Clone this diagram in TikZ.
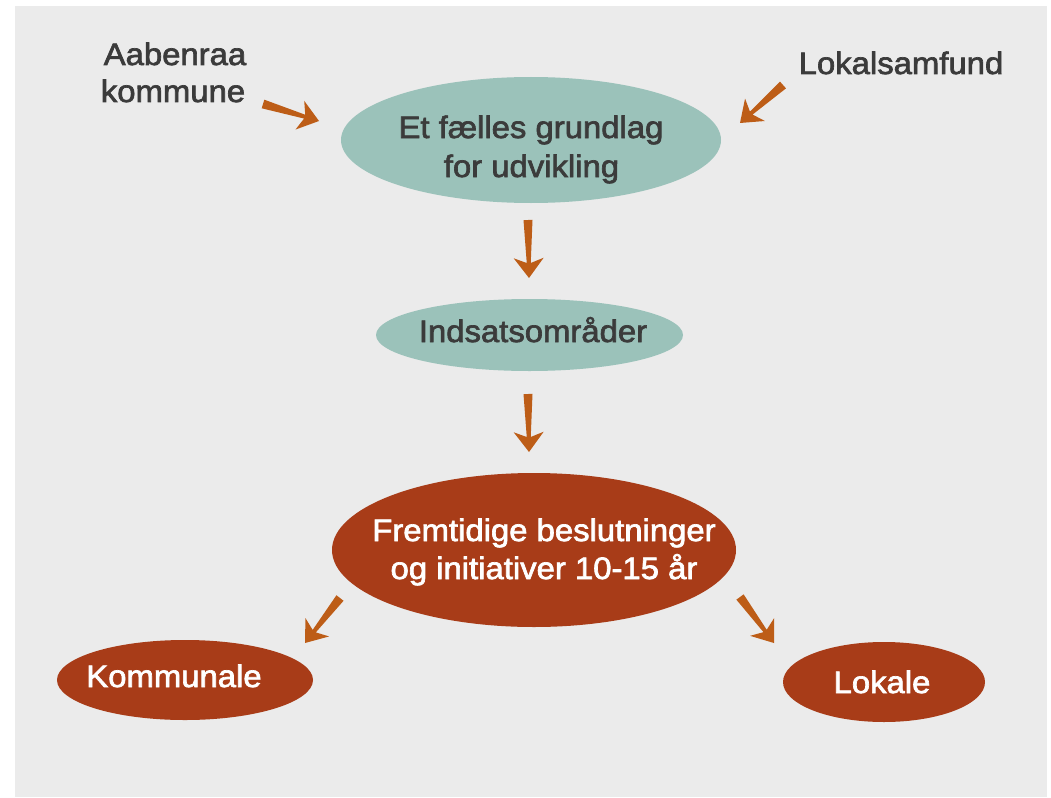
\documentclass[tikz,border=0pt]{standalone}
\usepackage{fontspec}
\usetikzlibrary{shapes.geometric,calc}
\newfontfamily\hfont{Liberation Sans}[FakeStretch=1.06,FakeBold=2.2]
\definecolor{bgc}{HTML}{EBEBEB}
\definecolor{tealc}{HTML}{9BC2BA}
\definecolor{redc}{HTML}{A83C18}
\definecolor{arrc}{HTML}{BD5D17}
\definecolor{txtc}{HTML}{3B3B3B}
\newcommand\tarrow[2]{%
  \fill[arrc] ($(#1)!4.5pt!90:(#2)$) -- ($(#2)!15pt!(#1)!2pt!-90:(#1)$)
    -- ($(#2)!20pt!(#1)!15pt!-90:(#1)$) -- (#2)
    -- ($(#2)!20pt!(#1)!15pt!90:(#1)$) -- ($(#2)!15pt!(#1)!2pt!90:(#1)$)
    -- ($(#1)!4.5pt!-90:(#2)$) -- cycle;}
\tikzset{
  ell/.style={ellipse, inner sep=0pt, outer sep=0pt},
  tealell/.style={ell, fill=tealc},
  redell/.style={ell, fill=redc},
  lbl/.style={anchor=base, inner sep=0pt, font=\hfont\fontsize{31}{38}\selectfont, text=txtc},
  wlbl/.style={lbl, text=white}
}
\begin{document}
\begin{tikzpicture}[x=1pt,y=-1pt]
\useasboundingbox (0,0) rectangle (1051,797);
\fill[bgc] (15,6) rectangle (1047,797);
% ellipses
\node[tealell, minimum width=380pt, minimum height=126pt] (e1) at (531,140) {};
\node[tealell, minimum width=307pt, minimum height=72pt] (e2) at (529.5,335) {};
\node[redell, minimum width=404pt, minimum height=154pt] (e3) at (534,550) {};
\node[redell, minimum width=256pt, minimum height=80pt] (e4) at (185,680) {};
\node[redell, minimum width=202pt, minimum height=80pt] (e5) at (884,682) {};
% texts
\node[lbl] (ta1) at (175,65) {Aabenraa};
\node[lbl] (ta2) at (173,102) {kommune};
\node[lbl] (tl) at (901,74) {Lokalsamfund};
\node[lbl] (t1a) at (531,138) {Et fælles grundlag};
\node[lbl] (t1b) at (531.5,177) {for udvikling};
\node[lbl] (t2) at (533,342) {Indsatsområder};
\node[wlbl] (t3a) at (544,541) {Fremtidige beslutninger};
\node[wlbl] (t3b) at (544,579) {og initiativer 10-15 år};
\node[wlbl] (t4) at (174,687) {Kommunale};
\node[wlbl] (t5) at (882,693) {Lokale};
% arrow end points
\coordinate (a1s) at (263,104); \coordinate (a1e) at (319,121);
\coordinate (a2s) at (783,85);  \coordinate (a2e) at (740,123);
\coordinate (a3s) at (528,220); \coordinate (a3e) at (529,278);
\coordinate (a4s) at (528,394); \coordinate (a4e) at (529,452);
\coordinate (a5s) at (340,598); \coordinate (a5e) at (305,643);
\coordinate (a6s) at (740,597); \coordinate (a6e) at (774,643);
\tarrow{a1s}{a1e}
\tarrow{a2s}{a2e}
\tarrow{a3s}{a3e}
\tarrow{a4s}{a4e}
\tarrow{a5s}{a5e}
\tarrow{a6s}{a6e}
\end{tikzpicture}
\end{document}
